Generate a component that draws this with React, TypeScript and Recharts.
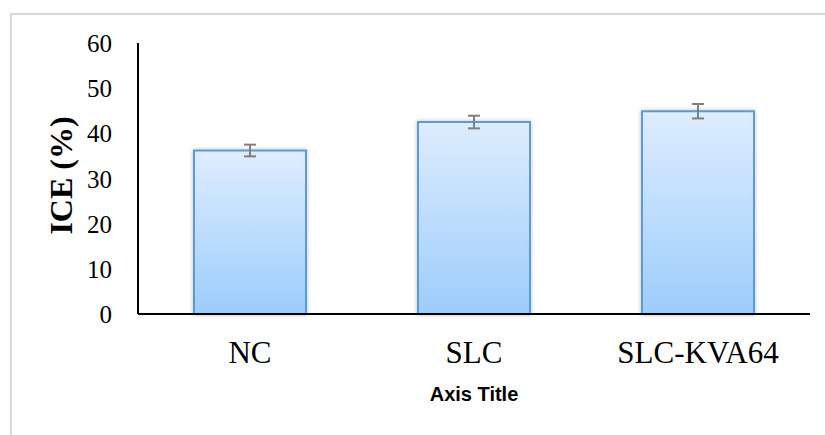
import React from 'react';
import { BarChart, Bar, XAxis, YAxis, ErrorBar } from 'recharts';

const categories = ['NC', 'SLC', 'SLC-KVA64'];
const iceValues = [36.2, 42.5, 44.9];
const iceErrors = [1.3, 1.4, 1.6];
const yTicks = [0, 10, 20, 30, 40, 50, 60];

const data = categories.map((name, i) => ({
  name,
  ice: iceValues[i],
  err: iceErrors[i],
}));

const serif = '"Liberation Serif", "Times New Roman", serif';

function XTick(props: any) {
  const { x, y, payload } = props;
  return (
    <text x={x} y={y + 41} textAnchor="middle" fontSize={31} fontFamily={serif} fill="#000">
      {payload.value}
    </text>
  );
}

function YTick(props: any) {
  const { x, y, payload } = props;
  return (
    <text x={x - 18} y={y + 9} textAnchor="end" fontSize={25} fontFamily={serif} fill="#000">
      {payload.value}
    </text>
  );
}

export default function App() {
  return (
    <div
      style={{
        position: 'absolute',
        left: 0,
        top: 0,
        width: 825,
        height: 435,
        overflow: 'hidden',
        background: '#fff',
      }}
    >
      <div
        style={{
          position: 'absolute',
          left: 10,
          top: 13,
          width: 900,
          height: 500,
          border: '2px solid #d9d9d9',
        }}
      />
      <div style={{ position: 'absolute', left: 0, top: 0 }}>
        <BarChart
          width={825}
          height={435}
          data={data}
          margin={{ top: 43, right: 15, left: 0, bottom: 61 }}
          barCategoryGap="25%"
        >
          <defs>
            <linearGradient id="barFill" x1="0" y1="0" x2="0" y2="1">
              <stop offset="0%" stopColor="#deedfe" />
              <stop offset="100%" stopColor="#9ccdfc" />
            </linearGradient>
            <filter id="barShadow" x="-10%" y="-10%" width="120%" height="120%">
              <feDropShadow dx="0" dy="0" stdDeviation="2" floodColor="#000" floodOpacity="0.25" />
            </filter>
          </defs>
          <XAxis
            dataKey="name"
            height={60}
            stroke="#000"
            strokeWidth={2}
            tickLine={false}
            tick={<XTick />}
            label={(p: any) => {
              const vb = p.viewBox;
              return (
                <text
                  x={vb.x + vb.width / 2}
                  y={vb.y + 87}
                  textAnchor="middle"
                  fontSize={20}
                  fontWeight="bold"
                  fontFamily='"Liberation Sans", Arial, sans-serif'
                  fill="#000"
                >
                  Axis Title
                </text>
              );
            }}
          />
          <YAxis
            width={138}
            domain={[0, 60]}
            ticks={yTicks}
            stroke="#000"
            strokeWidth={2}
            tickLine={false}
            tick={<YTick />}
            label={(p: any) => {
              const vb = p.viewBox;
              const cx = vb.x + 61;
              const cy = vb.y + vb.height / 2 - 3;
              return (
                <text
                  x={cx}
                  y={cy}
                  transform={`rotate(-90, ${cx}, ${cy})`}
                  textAnchor="middle"
                  dominantBaseline="central"
                  fontSize={32}
                  fontWeight="bold"
                  fontFamily={serif}
                  fill="#000"
                >
                  ICE (%)
                </text>
              );
            }}
          />
          <Bar
            dataKey="ice"
            fill="url(#barFill)"
            stroke="#5b9bd5"
            strokeWidth={2}
            filter="url(#barShadow)"
            isAnimationActive={false}
          >
            <ErrorBar dataKey="err" width={6} stroke="#7f7f7f" strokeWidth={2} direction="y" />
          </Bar>
        </BarChart>
      </div>
    </div>
  );
}
